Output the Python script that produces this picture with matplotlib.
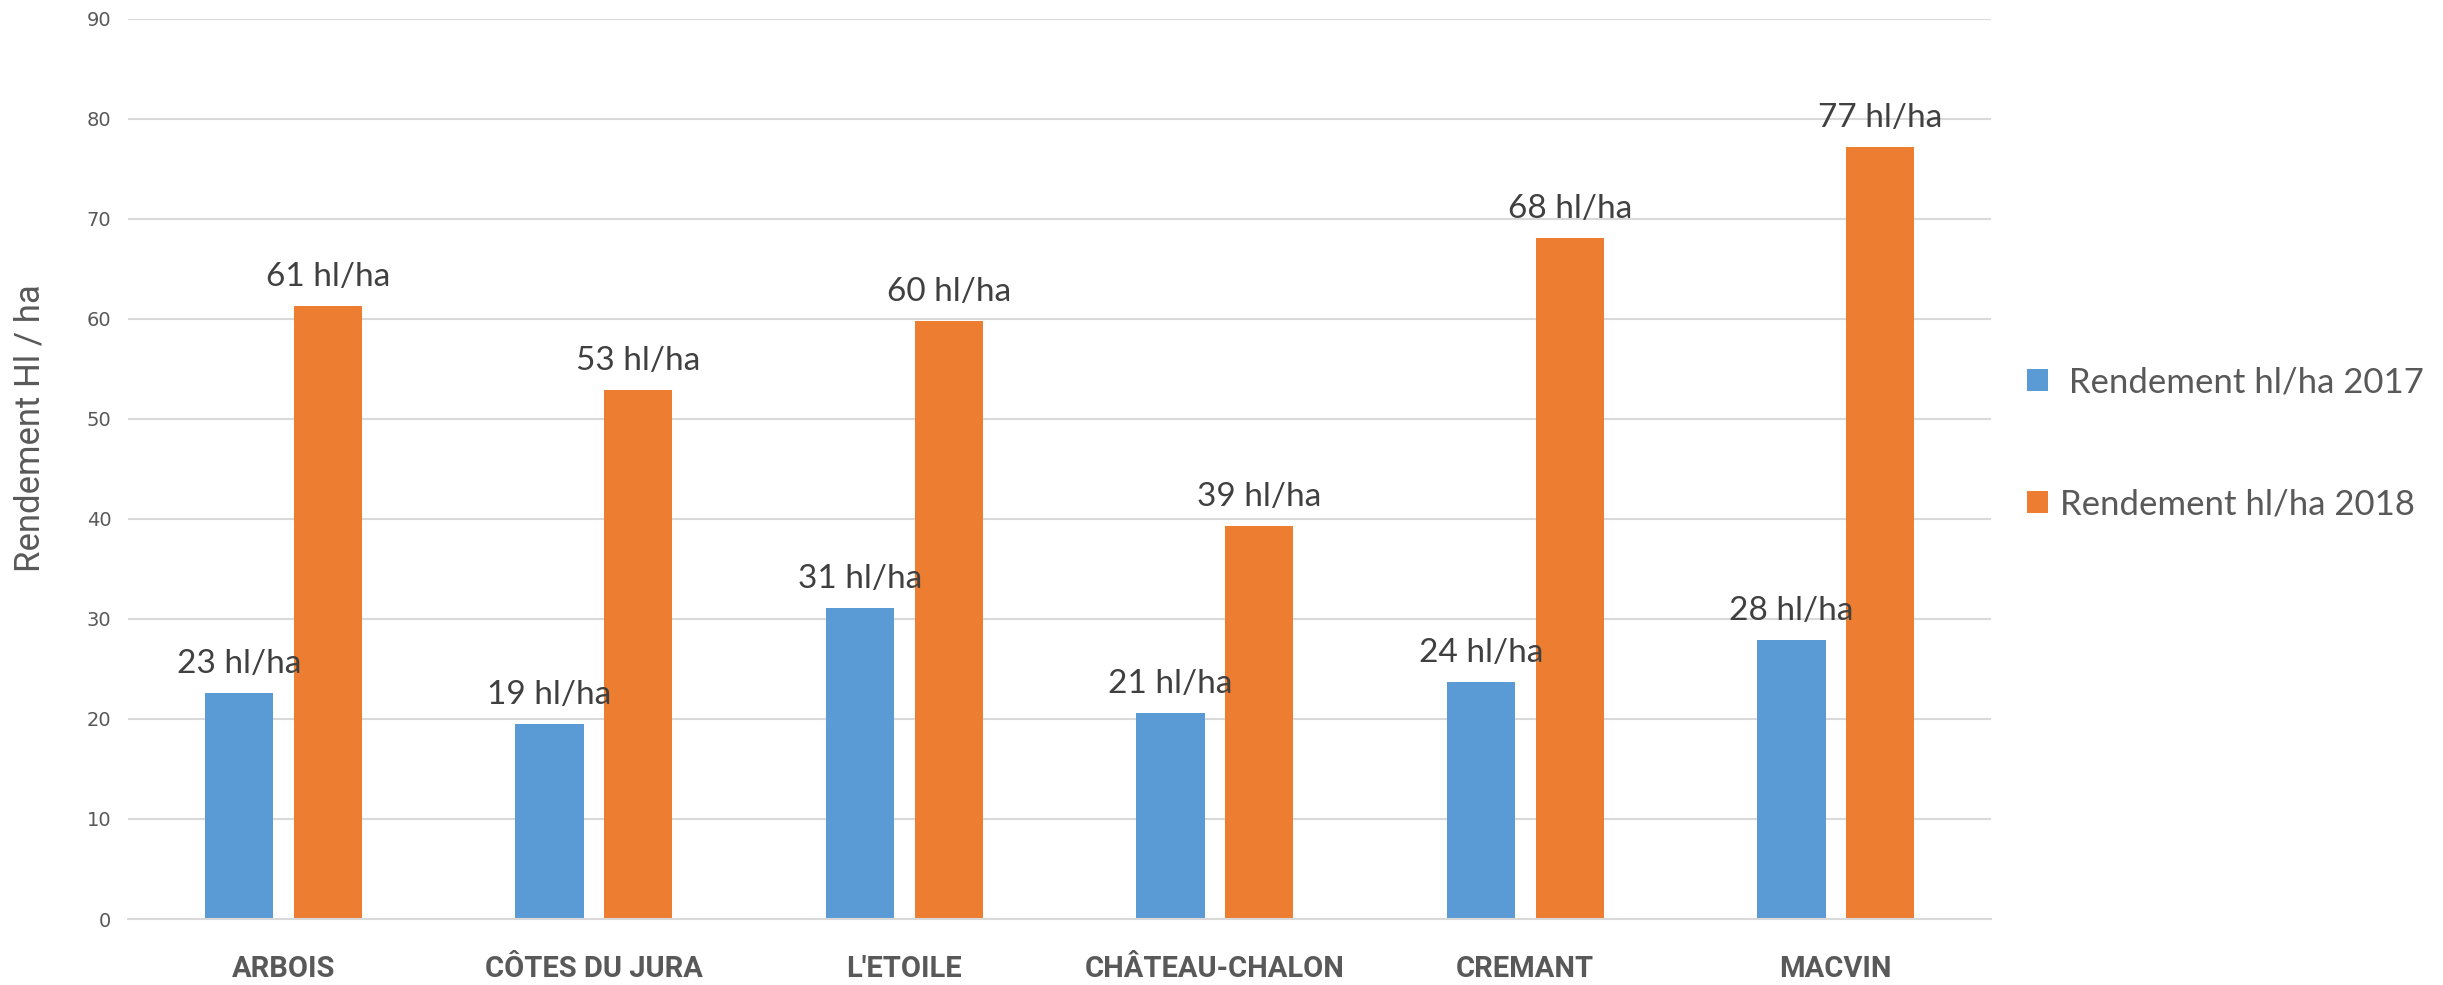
import numpy as np
import matplotlib
matplotlib.use("Agg")
import matplotlib.pyplot as plt

# données
appellations = ["ARBOIS", "CÔTES DU JURA", "L'ETOILE", "CHÂTEAU-CHALON", "CREMANT", "MACVIN"]
rdt_2017 = [22.6, 19.5, 31.1, 20.6, 23.7, 27.9]
rdt_2018 = [61.3, 52.9, 59.8, 39.3, 68.1, 77.2]
labels_2017 = ["23 hl/ha", "19 hl/ha", "31 hl/ha", "21 hl/ha", "24 hl/ha", "28 hl/ha"]
labels_2018 = ["61 hl/ha", "53 hl/ha", "60 hl/ha", "39 hl/ha", "68 hl/ha", "77 hl/ha"]
series_names = [" Rendement hl/ha 2017", "Rendement hl/ha 2018"]
yticks = np.arange(0, 91, 10)

BLUE = "#5B9BD5"
ORANGE = "#ED7D31"
GRID = "#D9D9D9"

fig = plt.figure(figsize=(24.43, 9.85), dpi=100)
ax = fig.add_axes([0.0524, 0.067, 0.7626, 0.914])

x = np.arange(len(appellations))
w = 0.22
off = 0.143
b1 = ax.bar(x - off, rdt_2017, w, color=BLUE, zorder=2, label=series_names[0])
b2 = ax.bar(x + off, rdt_2018, w, color=ORANGE, zorder=2, label=series_names[1])

# étiquettes de données au-dessus des barres
for bars, labs in ((b1, labels_2017), (b2, labels_2018)):
    for rect, lab in zip(bars, labs):
        ax.annotate(lab, (rect.get_x() + rect.get_width() / 2, rect.get_height()),
                    xytext=(0, 14), textcoords="offset points", ha="center",
                    va="baseline", fontsize=24, family="Lato", color="#404040", zorder=5)

ax.set_xlim(-0.5, len(appellations) - 0.5)
ax.set_ylim(0, 90)
ax.set_yticks(yticks)
ax.yaxis.grid(True, color=GRID, linewidth=1.5, zorder=0)
ax.set_axisbelow(True)
for s in ["top", "right", "left"]:
    ax.spines[s].set_visible(False)
ax.spines["bottom"].set_color(GRID)
ax.spines["bottom"].set_linewidth(1.5)
ax.tick_params(axis="both", length=0)
ax.tick_params(axis="y", labelsize=14, labelcolor="#595959", pad=12)

ax.set_xticks(x)
ax.set_xticklabels(appellations, family="Roboto", fontweight="bold", fontsize=21,
                   color="#595959", va="center")
ax.tick_params(axis="x", pad=36)

ax.set_ylabel("Rendement Hl / ha", family="Roboto", fontsize=25, color="#595959")
ax.yaxis.set_label_coords(-0.044, 0.545)

fig.legend(handles=[b1, b2], labels=series_names, loc="center left",
           bbox_to_anchor=(0.817, 0.55), frameon=False, prop={"family": "Lato", "size": 25},
           labelcolor="#595959", handlelength=0.6, handleheight=0.6, handletextpad=0.35,
           labelspacing=2.6)

fig.savefig("out.png", dpi=100)
